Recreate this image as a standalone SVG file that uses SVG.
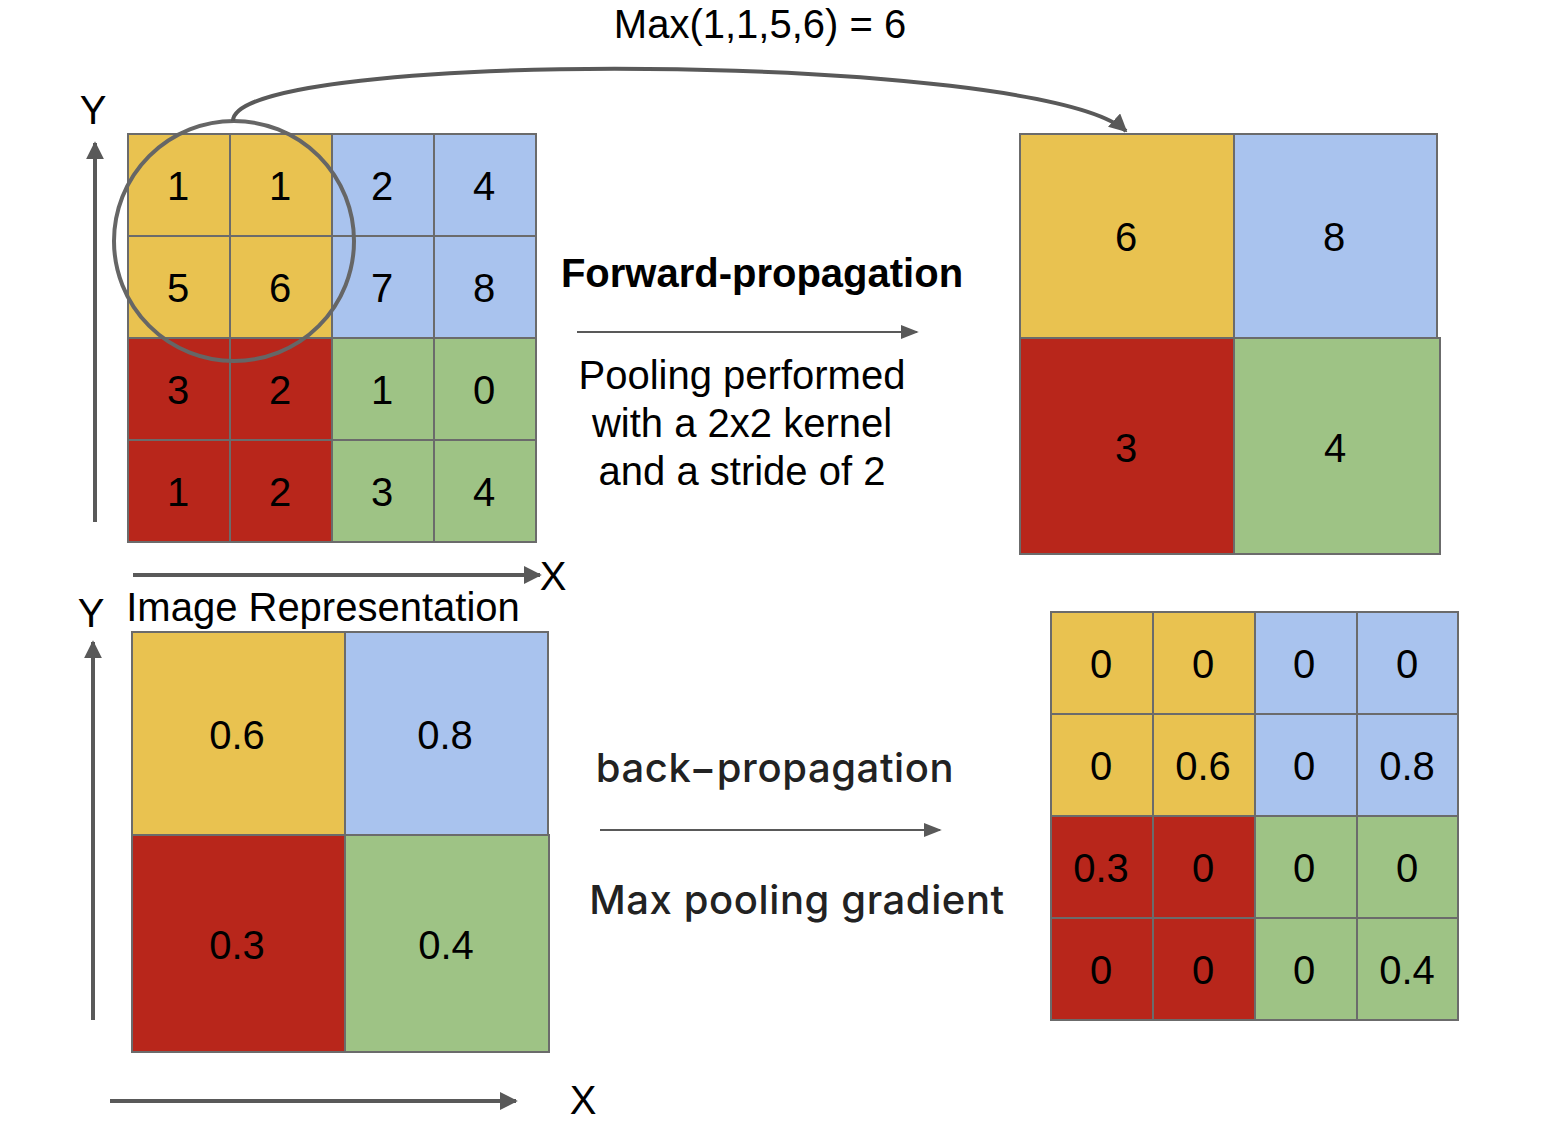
<svg xmlns="http://www.w3.org/2000/svg" width="1566" height="1126" viewBox="0 0 1566 1126">
<style>
text{font-family:"Liberation Sans",Arial,sans-serif;font-size:40px;fill:#000;text-anchor:middle}
.sf{font-family:Inter,"Liberation Sans",sans-serif;font-weight:500;fill:#222;letter-spacing:0.6px}
.y{fill:#E9C250}.b{fill:#A9C3EE}.r{fill:#B8261B}.g{fill:#9EC385}
rect{stroke:#6b6b6b;stroke-width:2}
.ax{stroke:#595959;stroke-width:4;fill:none}
.thin{stroke:#595959;stroke-width:2;fill:none}
</style>
<defs>
<marker id="ah" viewBox="0 0 10 10" refX="9" refY="5" markerWidth="4.5" markerHeight="4.5" orient="auto" markerUnits="strokeWidth"><path d="M0,0L10,5L0,10z" fill="#595959"/></marker>
<marker id="ahs" viewBox="0 0 10 10" refX="9" refY="5" markerWidth="9" markerHeight="9" orient="auto" markerUnits="strokeWidth"><path d="M0,1L10,5L0,9z" fill="#595959"/></marker>
</defs>
<text x="760" y="38">Max(1,1,5,6) = 6</text>
<g id="input-grid">
<rect class="y" x="128" y="134" width="102" height="102"/><rect class="y" x="230" y="134" width="102" height="102"/><rect class="b" x="332" y="134" width="102" height="102"/><rect class="b" x="434" y="134" width="102" height="102"/>
<rect class="y" x="128" y="236" width="102" height="102"/><rect class="y" x="230" y="236" width="102" height="102"/><rect class="b" x="332" y="236" width="102" height="102"/><rect class="b" x="434" y="236" width="102" height="102"/>
<rect class="r" x="128" y="338" width="102" height="102"/><rect class="r" x="230" y="338" width="102" height="102"/><rect class="g" x="332" y="338" width="102" height="102"/><rect class="g" x="434" y="338" width="102" height="102"/>
<rect class="r" x="128" y="440" width="102" height="102"/><rect class="r" x="230" y="440" width="102" height="102"/><rect class="g" x="332" y="440" width="102" height="102"/><rect class="g" x="434" y="440" width="102" height="102"/>
<text x="178" y="200">1</text><text x="280" y="200">1</text><text x="382" y="200">2</text><text x="484" y="200">4</text>
<text x="178" y="302">5</text><text x="280" y="302">6</text><text x="382" y="302">7</text><text x="484" y="302">8</text>
<text x="178" y="404">3</text><text x="280" y="404">2</text><text x="382" y="404">1</text><text x="484" y="404">0</text>
<text x="178" y="506">1</text><text x="280" y="506">2</text><text x="382" y="506">3</text><text x="484" y="506">4</text>
</g>
<g id="kernel-circle"><circle cx="234" cy="241" r="120" fill="none" stroke="#666" stroke-width="4"/></g>
<g id="output-grid">
<rect class="y" x="1020" y="134" width="214" height="204"/><rect class="b" x="1234" y="134" width="203" height="204"/>
<rect class="r" x="1020" y="338" width="214" height="216"/><rect class="g" x="1234" y="338" width="206" height="216"/>
<text x="1126" y="251">6</text><text x="1334" y="251">8</text><text x="1126" y="462">3</text><text x="1335" y="462">4</text>
</g>
<g id="grad-grid">
<rect class="y" x="132" y="632" width="213" height="203"/><rect class="b" x="345" y="632" width="203" height="203"/>
<rect class="r" x="132" y="835" width="213" height="217"/><rect class="g" x="345" y="835" width="204" height="217"/>
<text x="237" y="749">0.6</text><text x="445" y="749">0.8</text><text x="237" y="959">0.3</text><text x="446" y="959">0.4</text>
</g>
<g id="backprop-grid">
<rect class="y" x="1051" y="612" width="102" height="102"/><rect class="y" x="1153" y="612" width="102" height="102"/><rect class="b" x="1255" y="612" width="102" height="102"/><rect class="b" x="1357" y="612" width="101" height="102"/>
<rect class="y" x="1051" y="714" width="102" height="102"/><rect class="y" x="1153" y="714" width="102" height="102"/><rect class="b" x="1255" y="714" width="102" height="102"/><rect class="b" x="1357" y="714" width="101" height="102"/>
<rect class="r" x="1051" y="816" width="102" height="102"/><rect class="r" x="1153" y="816" width="102" height="102"/><rect class="g" x="1255" y="816" width="102" height="102"/><rect class="g" x="1357" y="816" width="101" height="102"/>
<rect class="r" x="1051" y="918" width="102" height="102"/><rect class="r" x="1153" y="918" width="102" height="102"/><rect class="g" x="1255" y="918" width="102" height="102"/><rect class="g" x="1357" y="918" width="101" height="102"/>
<text x="1101" y="678">0</text><text x="1203" y="678">0</text><text x="1304" y="678">0</text><text x="1407" y="678">0</text>
<text x="1101" y="780">0</text><text x="1203" y="780">0.6</text><text x="1304" y="780">0</text><text x="1407" y="780">0.8</text>
<text x="1101" y="882">0.3</text><text x="1203" y="882">0</text><text x="1304" y="882">0</text><text x="1407" y="882">0</text>
<text x="1101" y="984">0</text><text x="1203" y="984">0</text><text x="1304" y="984">0</text><text x="1407" y="984">0.4</text>
</g>
<g id="connectors">
<path class="ax" d="M233,121 C233,48 1040,52 1126,131" marker-end="url(#ah)"/>
<line class="ax" x1="95" y1="522" x2="95" y2="143" marker-end="url(#ah)"/>
<line class="ax" x1="133" y1="575" x2="540" y2="575" marker-end="url(#ah)"/>
<line class="ax" x1="93" y1="1020" x2="93" y2="642" marker-end="url(#ah)"/>
<line class="ax" x1="110" y1="1101" x2="516" y2="1101" marker-end="url(#ah)"/>
<line class="thin" x1="577" y1="332" x2="917" y2="332" marker-end="url(#ahs)"/>
<line class="thin" x1="600" y1="830" x2="940" y2="830" marker-end="url(#ahs)"/>
</g>
<g id="labels">
<text x="93" y="124">Y</text>
<text x="553" y="590">X</text>
<text x="91" y="627">Y</text>
<text x="323" y="621">Image Representation</text>
<text x="583" y="1114">X</text>
<text x="762" y="287" font-weight="bold">Forward-propagation</text>
<text x="742" y="389">Pooling performed</text>
<text x="742" y="437">with a 2x2 kernel</text>
<text x="742" y="485">and a stride of 2</text>
<text class="sf" x="775" y="782">back−propagation</text>
<text class="sf" x="797" y="914">Max pooling gradient</text>
</g>
</svg>
